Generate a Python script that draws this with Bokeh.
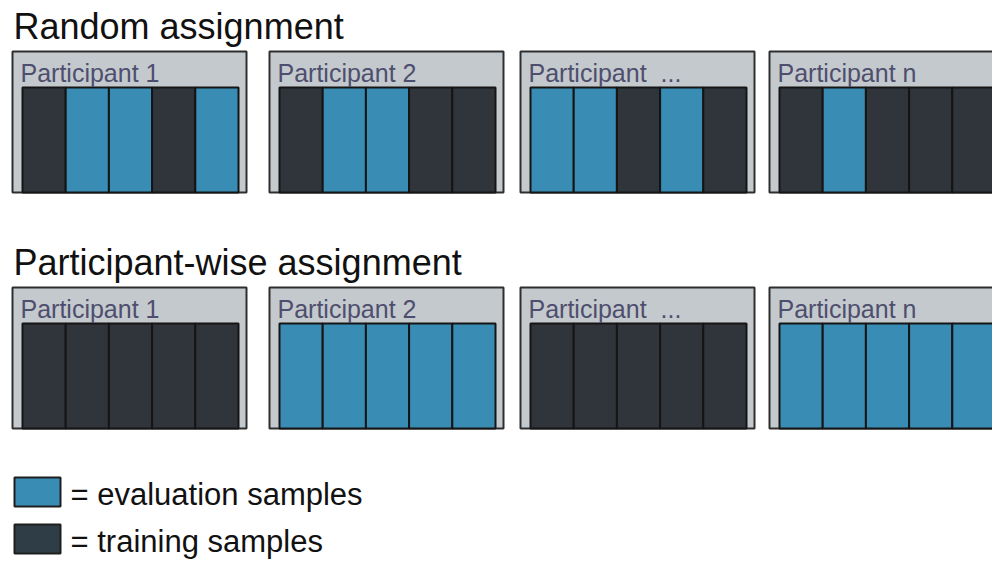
from bokeh.plotting import figure
from bokeh.models import Range1d, ColumnDataSource
from bokeh.core.properties import value
from bokeh.embed import file_html
from bokeh.resources import INLINE

# ---- data ----
scheme_titles = ["Random assignment", "Participant-wise assignment"]
participants = ["Participant 1", "Participant 2", "Participant\u00a0 ...", "Participant n"]
# 1 = evaluation sample, 0 = training sample (5 samples per participant)
random_assign = [[0, 1, 1, 0, 1],
                 [0, 1, 1, 0, 0],
                 [1, 1, 0, 1, 0],
                 [0, 1, 0, 0, 0]]
participant_assign = [[0, 0, 0, 0, 0],
                      [1, 1, 1, 1, 1],
                      [0, 0, 0, 0, 0],
                      [1, 1, 1, 1, 1]]
schemes = [random_assign, participant_assign]
legend_labels = ["= evaluation samples", "= training samples"]

# ---- layout / style ----
FONT = "Liberation Sans"
EVAL_COL = "#398cb4"
TRAIN_COL = "#30343b"
LEG_TRAIN_COL = "#2f3e46"
PANEL_FILL = "#c4c9cd"
W, H = 992, 559
panel_x = [12, 269, 520, 769]
panel_w = 234
row_top = [51, 287]
panel_h = 141
inner_dx_l, inner_dx_r, inner_dy = 10, 8, 36
leg_top = [477, 524]
leg_h = 29

TITLE_FS, LABEL_FS, LEG_FS = 36, 25, 31
BASE_FIX = 0.33  # baseline correction (fraction of font size)


def fix(y, fs):
    return y - BASE_FIX * fs


p = figure(width=W, height=H, output_backend="svg", toolbar_location=None,
           x_range=Range1d(0, W), y_range=Range1d(H, 0),
           min_border=0, outline_line_color=None, background_fill_color="white")
p.xaxis.visible = False
p.yaxis.visible = False
p.grid.visible = False

panels = dict(left=[], right=[], top=[], bottom=[])
bars = dict(left=[], right=[], top=[], bottom=[], color=[])
labels = dict(x=[], y=[], text=[])
titles = dict(x=[], y=[], text=[])

for r, assign in enumerate(schemes):
    top = row_top[r]
    titles["x"].append(13)
    titles["y"].append(fix(top - 13, TITLE_FS))
    titles["text"].append(scheme_titles[r])
    for i, name in enumerate(participants):
        x0 = panel_x[i]
        panels["left"].append(x0)
        panels["right"].append(x0 + panel_w)
        panels["top"].append(top)
        panels["bottom"].append(top + panel_h)
        labels["x"].append(x0 + 8)
        labels["y"].append(fix(top + 30, LABEL_FS))
        labels["text"].append(name)
        il = x0 + inner_dx_l
        ir = x0 + panel_w - inner_dx_r
        n = len(assign[i])
        bw = (ir - il) / n
        for k, v in enumerate(assign[i]):
            bars["left"].append(il + k * bw)
            bars["right"].append(il + (k + 1) * bw)
            bars["top"].append(top + inner_dy)
            bars["bottom"].append(top + panel_h)
            bars["color"].append(EVAL_COL if v == 1 else TRAIN_COL)

p.quad(left="left", right="right", top="top", bottom="bottom",
       source=ColumnDataSource(panels), fill_color=PANEL_FILL,
       line_color="#2e2e2e", line_width=2)
p.quad(left="left", right="right", top="top", bottom="bottom",
       source=ColumnDataSource(bars), fill_color="color",
       line_color="#151515", line_width=2)
p.text(x="x", y="y", text="text", source=ColumnDataSource(labels),
       text_font=value(FONT), text_font_size=f"{LABEL_FS}px", text_color="#4e4e6e",
       text_baseline="alphabetic", text_align="left")
p.text(x="x", y="y", text="text", source=ColumnDataSource(titles),
       text_font=value(FONT), text_font_size=f"{TITLE_FS}px", text_color="#111111",
       text_baseline="alphabetic", text_align="left")

# legend
leg = dict(left=[14, 14], right=[60, 60],
           top=leg_top, bottom=[t + leg_h for t in leg_top],
           color=[EVAL_COL, LEG_TRAIN_COL])
p.quad(left="left", right="right", top="top", bottom="bottom",
       source=ColumnDataSource(leg), fill_color="color",
       line_color="#1e1e1e", line_width=2)
p.text(x=[70, 70], y=[fix(t + 27, LEG_FS) for t in leg_top], text=legend_labels,
       text_font=value(FONT), text_font_size=f"{LEG_FS}px", text_color="#111111",
       text_baseline="alphabetic", text_align="left")

open("out.html", "w").write(file_html(p, INLINE))
